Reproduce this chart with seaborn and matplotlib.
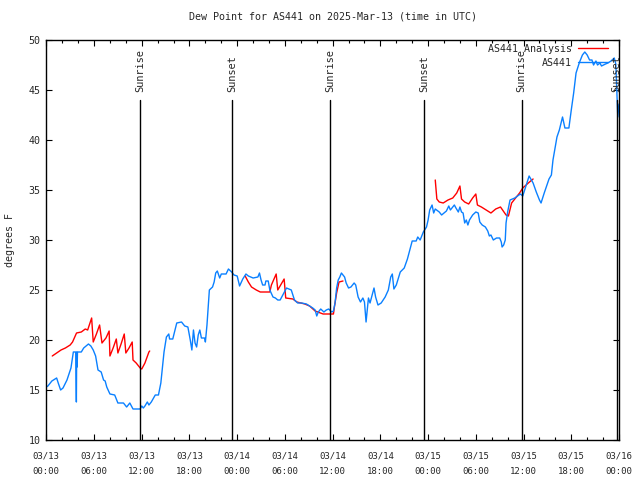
import numpy as np
import pandas as pd
import matplotlib
matplotlib.use("Agg")
import matplotlib.pyplot as plt
from matplotlib.lines import Line2D
import seaborn as sns

# AS441 station dew point (hours since 03/13 00:00 UTC)
blue_hours = [0.0, 0.2, 0.7, 1.3, 1.5, 1.8, 2.1, 2.6, 3.1, 3.4, 3.7, 3.78, 3.82, 3.88, 3.92,
              4.4, 4.7, 5.3, 5.6, 5.9, 6.2, 6.5, 6.9, 7.2, 7.4, 7.6, 8.0, 8.6, 9.0, 9.7,
              10.1, 10.5, 10.9, 11.8, 12.0, 12.2, 12.4, 12.7, 12.9, 13.2, 13.7, 14.1, 14.4,
              14.8, 15.1, 15.4, 15.5, 15.9, 16.4, 17.0, 17.4, 17.8, 18.1, 18.3, 18.5, 18.7,
              18.9, 19.1, 19.3, 19.5, 19.9, 20.0, 20.2, 20.5, 20.9, 21.1, 21.3, 21.5, 21.8,
              22.0, 22.6, 22.9, 23.3, 23.6, 24.0, 24.3, 24.7, 25.1, 25.4, 26.0, 26.6, 26.8,
              27.0, 27.2, 27.5, 27.6, 27.9, 28.1, 28.5, 28.8, 29.1, 29.4, 29.6, 30.2, 30.8,
              31.2, 31.6, 32.1, 32.7, 33.1, 33.5, 33.8, 34.0, 34.2, 34.5, 34.9, 35.2, 35.5,
              35.9, 36.1, 36.3, 36.5, 36.7, 36.9, 37.1, 37.5, 37.7, 38.0, 38.3, 38.7, 38.9,
              39.2, 39.5, 39.8, 40.0, 40.2, 40.5, 40.7, 40.9, 41.2, 41.4, 41.7, 42.1, 42.6,
              43.0, 43.3, 43.5, 43.7, 44.0, 44.5, 45.0, 45.4, 45.7, 46.0, 46.5, 46.7, 47.0,
              47.4, 47.8, 48.0, 48.2, 48.5, 48.7, 48.9, 49.4, 49.7, 50.0, 50.3, 50.6, 50.8,
              51.3, 51.5, 51.8, 52.0, 52.2, 52.4, 52.6, 52.8, 53.0, 53.2, 53.6, 54.0, 54.3,
              54.5, 54.8, 55.2, 55.5, 55.7, 55.9, 56.2, 56.6, 57.0, 57.2, 57.3, 57.5, 57.7,
              57.8, 58.0, 58.3, 58.9, 59.6, 59.9, 60.3, 60.7, 61.2, 61.6, 62.0, 62.2, 62.6,
              63.2, 63.5, 63.7, 64.2, 64.5, 64.9, 65.2, 65.7, 66.0, 66.3, 66.6, 67.0, 67.1,
              67.4, 67.7, 68.0, 68.3, 68.6, 68.8, 69.1, 69.3, 69.6, 69.8, 70.3, 70.6, 71.0,
              71.4, 71.6, 71.75, 71.85, 72.0]
blue_vals = [15.3, 15.4, 15.9, 16.2, 15.7, 15.0, 15.2, 16.0, 17.2, 18.8, 18.8, 13.8, 18.8, 17.3, 18.8,
             18.8, 19.2, 19.6, 19.4, 19.0, 18.4, 17.0, 16.8, 16.0, 15.9, 15.3, 14.6, 14.5, 13.7, 13.7,
             13.3, 13.7, 13.1, 13.1, 13.4, 13.2, 13.4, 13.8, 13.5, 13.8, 14.5, 14.5, 15.7,
             18.8, 20.3, 20.6, 20.1, 20.1, 21.7, 21.8, 21.4, 21.3, 20.0, 19.0, 21.0, 19.7,
             19.3, 20.5, 21.0, 20.2, 20.2, 19.8, 21.5, 25.0, 25.3, 25.8, 26.7, 26.9, 26.2,
             26.6, 26.6, 27.1, 26.8, 26.5, 26.4, 25.4, 26.1, 26.6, 26.4, 26.2, 26.3, 26.7,
             26.0, 25.5, 25.5, 25.9, 25.9, 25.0, 24.3, 24.2, 24.0, 24.0, 24.3, 25.2, 25.0,
             24.0, 23.7, 23.7, 23.6, 23.4, 23.2, 23.0, 22.4, 22.8, 23.1, 22.8, 23.0, 23.1,
             22.8, 22.9, 23.7, 25.2, 26.0, 26.3, 26.7, 26.3, 25.7, 25.2, 25.3, 25.7, 25.5,
             24.3, 23.8, 24.2, 23.8, 21.8, 24.2, 23.7, 24.3, 25.2, 24.3, 23.5, 23.7, 24.3,
             25.0, 26.3, 26.6, 25.1, 25.5, 26.8, 27.2, 28.1, 29.0, 29.9, 29.9, 30.3, 30.0,
             30.8, 31.3, 32.0, 33.0, 33.5, 32.7, 33.1, 32.8, 32.5, 32.7, 32.9, 33.4, 33.0,
             33.5, 33.2, 32.8, 33.3, 32.8, 32.7, 31.7, 32.0, 31.5, 32.0, 32.5, 32.8, 32.7,
             31.8, 31.5, 31.3, 30.9, 30.4, 30.5, 30.0, 30.2, 30.2, 29.8, 29.3, 29.5, 30.0,
             31.7, 32.8, 34.0, 34.2, 34.6, 34.4, 35.4, 36.4, 35.7, 34.8, 34.0, 33.7, 34.7,
             36.1, 36.5, 38.0, 40.3, 41.0, 42.3, 41.2, 41.2, 43.0, 44.7, 46.7, 47.7, 47.9,
             48.5, 48.8, 48.5, 48.0, 48.0, 47.5, 47.9, 47.5, 47.7, 47.4, 47.6, 47.7, 47.9,
             48.2, 47.6, 44.5, 42.3, 43.6]

# AS441 Analysis (three separate runs)
red_hours = [0.75, 1.3, 1.85, 2.4, 3.0, 3.3, 3.8, 4.4, 4.9, 5.2, 5.7, 5.9, 6.3, 6.7, 7.0, 7.5,
             7.9, 8.0, 8.4, 8.8, 9.0, 9.4, 9.8, 10.0, 10.4, 10.8, 10.9, 11.3, 11.8, 12.0,
             12.4, 12.9, 13.0,
             25.0, 25.4, 25.8, 26.4, 26.9, 28.1, 28.3, 28.9, 29.1, 29.9, 30.1, 31.0, 31.5,
             32.5, 33.1, 33.8, 34.8, 36.1, 36.2, 36.5, 36.8, 37.3,
             48.9, 49.1, 49.4, 49.9, 50.5, 51.1, 51.6, 52.0, 52.2, 52.6, 53.1, 53.6, 54.0,
             54.2, 54.7, 55.3, 55.9, 56.5, 57.1, 57.8, 58.1, 58.5, 59.1, 59.5, 59.9, 60.6, 61.2]
red_vals = [18.4, 18.7, 19.0, 19.2, 19.5, 19.8, 20.7, 20.8, 21.1, 21.0, 22.2, 19.8, 20.6, 21.5, 19.7, 20.2,
            20.9, 18.4, 19.2, 20.1, 18.7, 19.6, 20.6, 18.7, 19.2, 19.8, 18.0, 17.7, 17.2, 17.1,
            17.7, 18.8, 18.9,
            26.4, 25.8, 25.3, 25.0, 24.8, 24.8, 25.5, 26.6, 25.0, 26.1, 24.2, 24.1, 23.8,
            23.6, 23.4, 22.9, 22.6, 22.6, 23.2, 24.7, 25.8, 25.9,
            36.0, 34.1, 33.8, 33.7, 34.0, 34.2, 34.7, 35.4, 34.1, 33.8, 33.6, 34.2, 34.6,
            33.5, 33.3, 33.0, 32.7, 33.1, 33.3, 32.5, 32.4, 33.7, 34.3, 34.7, 35.2, 35.7, 36.1]
red_run = [1] * 33 + [2] * 22 + [3] * 27

sunrise_hours = [11.75, 35.65, 59.75]
sunset_hours = [23.4, 47.5, 71.7]
tick_labels = ["03/13\n00:00", "03/13\n06:00", "03/13\n12:00", "03/13\n18:00",
               "03/14\n00:00", "03/14\n06:00", "03/14\n12:00", "03/14\n18:00",
               "03/15\n00:00", "03/15\n06:00", "03/15\n12:00", "03/15\n18:00",
               "03/16\n00:00"]

sns.set_theme(style="ticks")
plt.rcParams["font.family"] = ["DejaVu Sans Mono"]
plt.rcParams["xtick.direction"] = "in"
plt.rcParams["ytick.direction"] = "in"

blue_df = pd.DataFrame({"hour": blue_hours, "dew": blue_vals})
red_df = pd.DataFrame({"hour": red_hours, "dew": red_vals, "run": red_run})

fig = plt.figure(figsize=(6.4, 4.8), dpi=100)
ax = fig.add_axes([46.3 / 640, 40 / 480, (619 - 46.3) / 640, 400 / 480])

sns.lineplot(data=red_df, x="hour", y="dew", units="run", estimator=None, sort=False,
             color="#ff0000", linewidth=1, ax=ax)
sns.lineplot(data=blue_df, x="hour", y="dew", estimator=None, sort=False,
             color="#0a80ff", linewidth=1, ax=ax)

for h, name in [(h, "Sunrise") for h in sunrise_hours] + [(h, "Sunset") for h in sunset_hours]:
    ax.plot([h, h], [10, 44.0], color="black", linewidth=1)
    ax.text(h, 44.8, name, rotation=90, ha="center", va="bottom", fontsize=7.4)

ax.set_xlim(0, 72)
ax.set_ylim(10, 50)
ax.set_xticks(np.arange(0, 73, 6))
ax.set_xticks(np.arange(0, 73, 2), minor=True)
ax.set_xticklabels(tick_labels, fontsize=6.5, linespacing=2.0)
ax.set_yticks(np.arange(10, 51, 5))
ax.tick_params(axis="y", labelsize=7.2, pad=4)
ax.tick_params(which="both", top=True, right=True, color="black", width=0.8)
ax.tick_params(which="major", length=4.5)
ax.tick_params(which="minor", length=2.5)
ax.tick_params(axis="x", pad=8)
for s in ax.spines.values():
    s.set_color("black")
    s.set_linewidth(1)

ax.set_xlabel("")
ax.set_ylabel("degrees F", fontsize=7.2, labelpad=10)
ax.set_title("Dew Point for AS441 on 2025-Mar-13 (time in UTC)", fontsize=7.2, pad=15)

handles = [Line2D([], [], color="#ff0000", linewidth=1), Line2D([], [], color="#0a80ff", linewidth=1)]
ax.legend(handles, ["AS441 Analysis", "AS441"], loc="upper right", bbox_to_anchor=(0.984, 0.995),
          frameon=False, fontsize=7.2, markerfirst=False, handlelength=3.0, handletextpad=0.6,
          labelspacing=0.4, borderaxespad=0.2, borderpad=0.0)

plt.savefig("out.png", dpi=100)
